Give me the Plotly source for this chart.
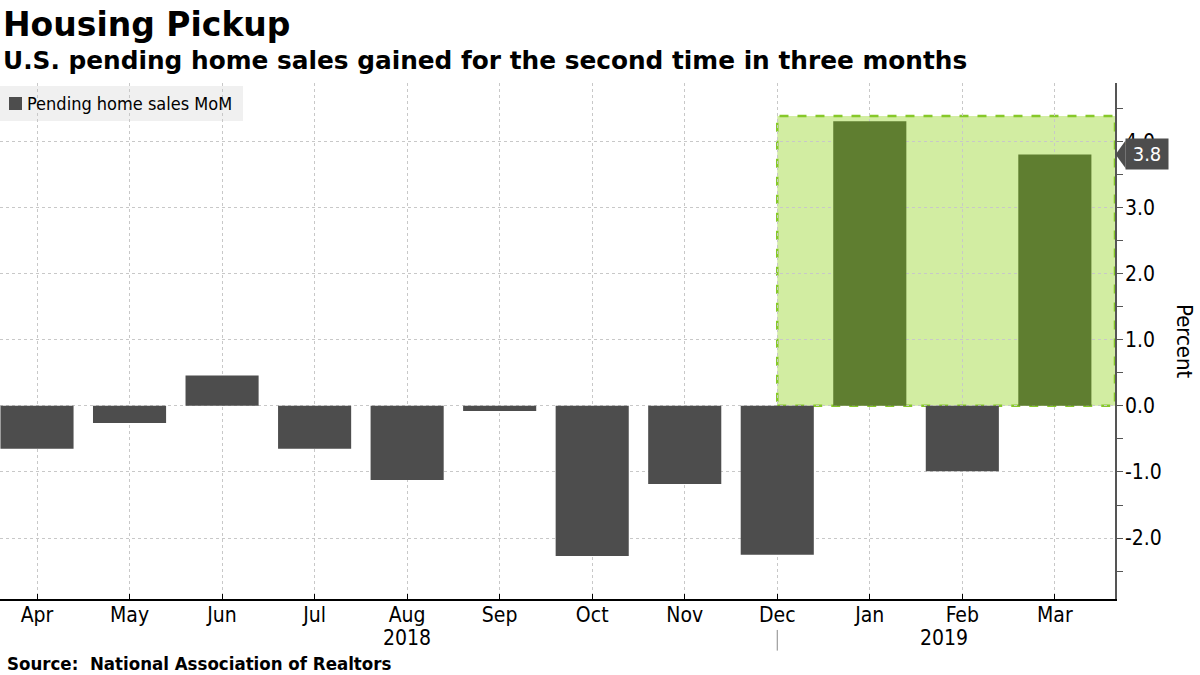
import plotly.graph_objects as go

months = ["Apr", "May", "Jun", "Jul", "Aug", "Sep", "Oct", "Nov", "Dec", "Jan", "Feb", "Mar"]
values = [-0.65, -0.26, 0.46, -0.65, -1.12, -0.08, -2.27, -1.18, -2.25, 4.3, -0.99, 3.8]
years = [("2018", 4), ("2019", 9.8)]
y_ticks = [-2, -1, 0, 1, 2, 3, 4]
highlight_start = 8
highlight_top = 4.38
last_value = values[-1]
legend_label = "Pending home sales MoM"

FONT = "DejaVu Sans Condensed, DejaVu Sans, sans-serif"
FONT_W = "DejaVu Sans, sans-serif"
GRAY = "#4d4d4d"
GREEN = "#5f7e30"

colors = [GREEN if (i > highlight_start and v > 0) else GRAY for i, v in enumerate(values)]

fig = go.Figure()
fig.add_trace(go.Bar(
    x=list(range(len(months))), y=values, marker=dict(color=colors, line=dict(width=0)),
    width=0.79, name=legend_label, showlegend=False, hoverinfo="skip",
))

# highlight rectangle
fig.add_shape(type="rect", xref="x", yref="y", x0=highlight_start, x1=11.65, y0=0, y1=highlight_top,
              fillcolor="#d2eda2", line=dict(color="#86c82a", width=2.5, dash="dash"), layer="below")

fig.update_layout(
    width=1200, height=675,
    margin=dict(l=0, r=85, t=83, b=76, autoexpand=False),
    paper_bgcolor="white", plot_bgcolor="white",
    font=dict(family=FONT, size=20, color="#000"),
    xaxis=dict(
        range=[-0.4, 11.65], tickmode="array", tickvals=list(range(len(months))), ticktext=months,
        showgrid=True, gridcolor="#c8c8c8", griddash="dot", gridwidth=1,
        showline=True, linecolor="#000", linewidth=1.5, automargin=False,
        ticks="inside", ticklen=5, tickcolor="#000", zeroline=False,
        tickfont=dict(family=FONT, size=21), ticklabelstandoff=-4,
    ),
    yaxis=dict(
        side="right", range=[-2.92, 4.88], tickmode="array", tickvals=y_ticks,
        ticktext=[f"{v:.1f}" for v in y_ticks], showgrid=True, gridcolor="#c8c8c8", griddash="dot", gridwidth=1,
        showline=True, linecolor="#555", linewidth=1.5, zeroline=False, automargin=False,
        ticks="outside", ticklen=6, tickcolor="#555", ticklabelstandoff=-2,
        minor=dict(tickvals=[-2.5, -1.5, -0.5, 0.5, 1.5, 2.5, 3.5, 4.5], ticks="outside", ticklen=6, tickcolor="#555", showgrid=False),
        tickfont=dict(family=FONT, size=21),
    ),
)

# manual legend
fig.add_shape(type="rect", xref="paper", yref="paper", x0=0, x1=243 / 1115, y0=(599 - 86) / 516, y1=(599 - 121) / 516,
              fillcolor="#f0f0f0", line=dict(width=0), layer="below")
fig.add_shape(type="rect", xref="paper", yref="paper", x0=9 / 1115, x1=22 / 1115, y0=(599 - 97) / 516, y1=(599 - 110) / 516,
              fillcolor=GRAY, line=dict(width=0))
fig.add_annotation(text=legend_label, xref="paper", yref="paper", x=25 / 1115, y=(599 - 103.5) / 516, xanchor="left", yanchor="middle",
                   showarrow=False, font=dict(family=FONT, size=18, color="#000"))

# titles
fig.add_annotation(text="<b>Housing Pickup</b>", xref="paper", yref="paper", x=0, y=1, xanchor="left", yanchor="middle",
                   showarrow=False, font=dict(family=FONT_W, size=33, color="#000"), yshift=59, xshift=1)
fig.add_annotation(text="<b>U.S. pending home sales gained for the second time in three months</b>", xref="paper", yref="paper",
                   x=0, y=1, xanchor="left", yanchor="middle", showarrow=False, font=dict(family=FONT_W, size=24.8, color="#000"), yshift=23, xshift=1)
fig.add_annotation(text="<b>Source:  National Association of Realtors</b>", xref="paper", yref="paper", x=0, y=0,
                   xanchor="left", yanchor="middle", showarrow=False, font=dict(family=FONT, size=18.5, color="#000"), yshift=-64, xshift=5)
fig.add_annotation(text="Percent", xref="paper", yref="paper", x=1, y=0.5, xanchor="center", yanchor="middle",
                   showarrow=False, textangle=90, font=dict(family=FONT, size=22, color="#000"), xshift=70)

for label, pos in years:
    fig.add_annotation(text=label, xref="x", yref="paper", x=pos, y=0, xanchor="center", yanchor="middle",
                       showarrow=False, font=dict(family=FONT, size=21, color="#000"), yshift=-39)
fig.add_shape(type="line", xref="x", yref="paper", x0=highlight_start, x1=highlight_start, y0=-0.06, y1=-0.1,
              line=dict(color="#888", width=1))

# last value label
fig.add_annotation(text=f"{last_value:.1f}", xref="paper", yref="y", x=1, y=last_value, xanchor="left", yanchor="middle",
                   showarrow=False, bgcolor=GRAY, font=dict(family=FONT, size=20, color="white"), xshift=10,
                   borderpad=3, width=36, align="center")
fig.add_shape(type="path", xref="paper", yref="y",
              path=f"M 1.0005 {last_value} L 1.0095 {last_value + 0.21} L 1.0095 {last_value - 0.21} Z",
              fillcolor=GRAY, line=dict(width=0), layer="above")

fig.write_html("out.html", config={"displayModeBar": False},
               post_script="document.body.style.margin='0';document.body.style.overflow='hidden';")
